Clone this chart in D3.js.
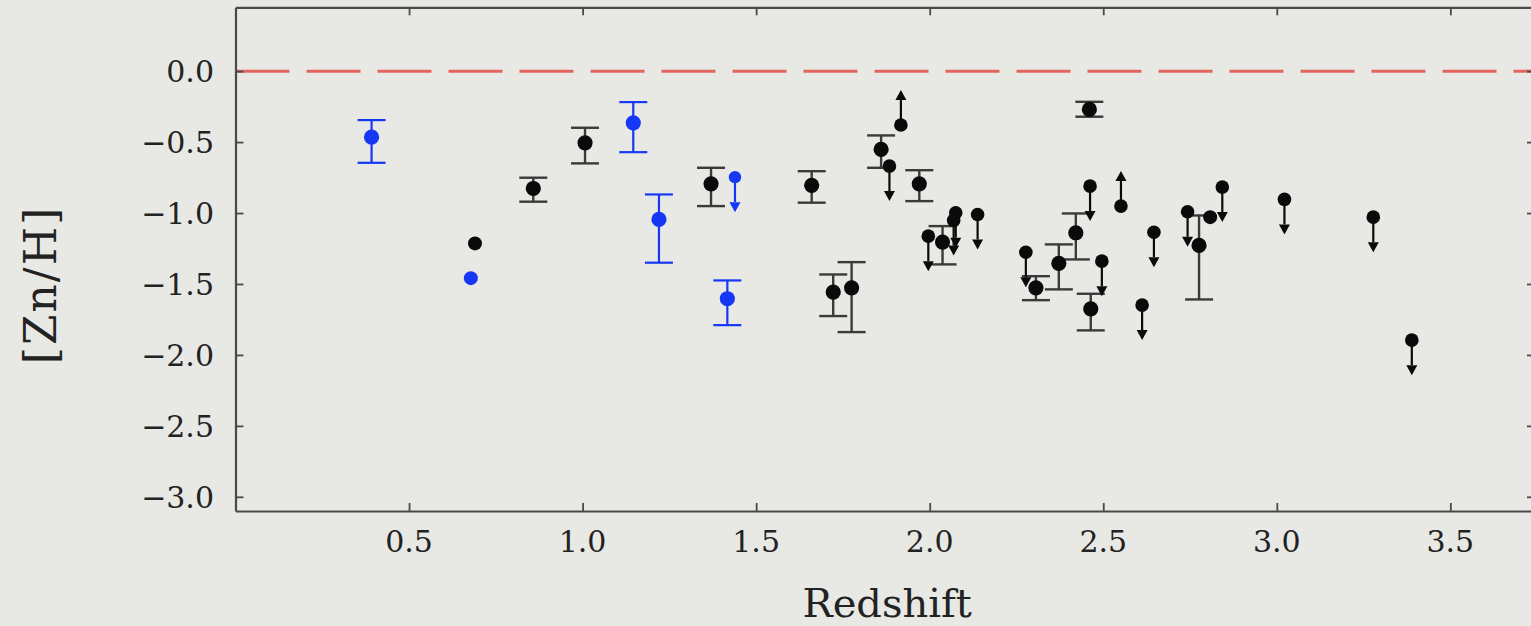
<!DOCTYPE html>
<html>
<head>
<meta charset="utf-8">
<script src="https://cdn.jsdelivr.net/npm/d3@7"></script>
<style>
  html, body { margin: 0; padding: 0; background: #e8e8e5; }
  svg { display: block; }
</style>
</head>
<body>
<svg id="chart" width="1531" height="626"></svg>
<script>
// ---------------- data ----------------
const xTicks = [0.5, 1.0, 1.5, 2.0, 2.5, 3.0, 3.5];
const yTicks = [0.0, -0.5, -1.0, -1.5, -2.0, -2.5, -3.0];
const xLabel = "Redshift";
const yLabel = "[Zn/H]";

// black detections with error bars: [z, value, low, high]
const blackErr = [
  [0.858, -0.827, -0.920, -0.751],
  [1.007, -0.505, -0.650, -0.399],
  [1.370, -0.794, -0.951, -0.681],
  [1.660, -0.805, -0.927, -0.705],
  [1.722, -1.557, -1.726, -1.433],
  [1.775, -1.527, -1.839, -1.346],
  [1.860, -0.552, -0.681, -0.453],
  [1.970, -0.794, -0.916, -0.698],
  [2.037, -1.205, -1.362, -1.092],
  [2.306, -1.527, -1.614, -1.445],
  [2.372, -1.355, -1.538, -1.221],
  [2.421, -1.139, -1.327, -1.003],
  [2.460, -0.270, -0.321, -0.216],
  [2.464, -1.675, -1.827, -1.569],
  [2.776, -1.228, -1.609, -1.017]
];
// black points without error bars: [z, value]
const blackPlain = [
  [0.690, -1.214],
  [2.808, -1.029]
];
// black upper limits: [z, value]
const blackUpper = [
  [1.884, -0.669], [1.996, -1.163], [2.069, -1.052], [2.075, -0.998],
  [2.138, -1.010], [2.277, -1.276], [2.462, -0.810], [2.496, -1.339],
  [2.612, -1.649], [2.646, -1.135], [2.743, -0.991], [2.843, -0.817],
  [3.022, -0.904], [3.278, -1.029], [3.389, -1.896]
];
// black lower limits: [z, value]
const blackLower = [
  [1.917, -0.380],
  [2.551, -0.951]
];
// blue detections with error bars: [z, value, low, high]
const blueErr = [
  [0.392, -0.465, -0.646, -0.345],
  [1.146, -0.364, -0.571, -0.218],
  [1.220, -1.045, -1.350, -0.869],
  [1.417, -1.604, -1.790, -1.475]
];
const bluePlain = [
  [0.678, -1.459]
];
const blueUpper = [
  [1.439, -0.747]
];
const solarLine = 0.0;

// ---------------- layout / style ----------------
const W = 1531, H = 626;
const mLeft = 235.5, mRight = 1533, mTop = 7.3, mBottom = 511;
const xDomain = [0, (mRight - mLeft) / 347.1];
const yDomain = [-3.1, 0.45];

const BLACK = "#0a0a0a", BAR = "#3a3a3a", BLUE = "#1638f5", AXIS = "#4a4a4a";
const RED = "#e4655d";
const capW = 28, arrowLen = 35, headH = 10, headW = 11;

const svg = d3.select("#chart");
svg.append("rect").attr("width", W).attr("height", H).attr("fill", "#e8e8e5");

const x = d3.scaleLinear().domain(xDomain).range([mLeft, mRight]);
const y = d3.scaleLinear().domain(yDomain).range([mBottom, mTop]);

const serif = "'DejaVu Serif', 'Liberation Serif', serif";

// solar reference line
svg.append("line")
  .attr("x1", x(xDomain[0])).attr("x2", x(xDomain[1]))
  .attr("y1", y(solarLine)).attr("y2", y(solarLine))
  .attr("stroke", RED).attr("stroke-width", 3)
  .attr("stroke-dasharray", "54,17");

// axes (ticks inside)
const axB = d3.axisBottom(x).tickValues(xTicks).tickSizeInner(-8).tickSizeOuter(0).tickFormat("");
const axT = d3.axisTop(x).tickValues(xTicks).tickSizeInner(-8).tickSizeOuter(0).tickFormat("");
const axL = d3.axisLeft(y).tickValues(yTicks).tickSizeInner(-8).tickSizeOuter(0).tickFormat("");
const axR = d3.axisRight(y).tickValues(yTicks).tickSizeInner(-6).tickSizeOuter(0).tickFormat("");

function styleAxis(g) {
  g.select(".domain").attr("stroke", AXIS).attr("stroke-width", 2.2);
  g.selectAll(".tick line").attr("stroke", AXIS).attr("stroke-width", 1.8);
}
svg.append("g").attr("transform", `translate(0,${mBottom})`).call(axB).call(styleAxis);
svg.append("g").attr("transform", `translate(0,${mTop})`).call(axT).call(styleAxis);
svg.append("g").attr("transform", `translate(${mLeft},0)`).call(axL).call(styleAxis);
svg.append("g").attr("transform", `translate(${mRight},0)`).call(axR).call(styleAxis);

// tick labels
svg.append("g").selectAll("text").data(xTicks).join("text")
  .attr("x", d => x(d)).attr("y", 552)
  .attr("text-anchor", "middle")
  .attr("font-family", serif).attr("font-size", 30).attr("fill", "#222")
  .text(d => d3.format(".1f")(d));

svg.append("g").selectAll("text").data(yTicks).join("text")
  .attr("x", 214).attr("y", d => y(d) + 11)
  .attr("text-anchor", "end")
  .attr("font-family", serif).attr("font-size", 30).attr("fill", "#222")
  .text(d => d3.format(".1f")(d).replace("-", "\u2212"));

// axis titles
svg.append("text")
  .attr("x", (mLeft + mRight) / 2 + 3).attr("y", 617)
  .attr("text-anchor", "middle")
  .attr("font-family", serif).attr("font-size", 40).attr("fill", "#222")
  .text(xLabel);

svg.append("text")
  .attr("transform", `translate(56,285) rotate(-90)`)
  .attr("text-anchor", "middle")
  .attr("font-family", serif).attr("font-size", 44).attr("letter-spacing", 2).attr("fill", "#222")
  .text(yLabel);

// ---------------- marks ----------------
const plot = svg.append("g");

function errorBars(data, color, width) {
  const g = plot.append("g").attr("stroke", color).attr("stroke-width", width).attr("fill", "none");
  g.selectAll("line.v").data(data).join("line").attr("class", "v")
    .attr("x1", d => x(d[0])).attr("x2", d => x(d[0]))
    .attr("y1", d => y(d[2])).attr("y2", d => y(d[3]));
  g.selectAll("line.lo").data(data).join("line").attr("class", "lo")
    .attr("x1", d => x(d[0]) - capW / 2).attr("x2", d => x(d[0]) + capW / 2)
    .attr("y1", d => y(d[2])).attr("y2", d => y(d[2]));
  g.selectAll("line.hi").data(data).join("line").attr("class", "hi")
    .attr("x1", d => x(d[0]) - capW / 2).attr("x2", d => x(d[0]) + capW / 2)
    .attr("y1", d => y(d[3])).attr("y2", d => y(d[3]));
}

function limits(data, color, dir, r) {
  // dir = +1 for upper limit (arrow down), -1 for lower limit (arrow up)
  const g = plot.append("g");
  g.selectAll("line").data(data).join("line")
    .attr("x1", d => x(d[0])).attr("x2", d => x(d[0]))
    .attr("y1", d => y(d[1])).attr("y2", d => y(d[1]) + dir * (arrowLen - headH))
    .attr("stroke", color).attr("stroke-width", 2.2);
  g.selectAll("path").data(data).join("path")
    .attr("d", d => {
      const cx = x(d[0]), tip = y(d[1]) + dir * arrowLen, base = tip - dir * headH;
      return `M${cx - headW / 2},${base}L${cx + headW / 2},${base}L${cx},${tip}Z`;
    })
    .attr("fill", color);
  g.selectAll("circle").data(data).join("circle")
    .attr("cx", d => x(d[0])).attr("cy", d => y(d[1])).attr("r", r)
    .attr("fill", color);
}

function dots(data, color, r) {
  plot.append("g").selectAll("circle").data(data).join("circle")
    .attr("cx", d => x(d[0])).attr("cy", d => y(d[1])).attr("r", r)
    .attr("fill", color);
}

errorBars(blackErr, BAR, 2.4);
errorBars(blueErr, BLUE, 2.2);
limits(blackUpper, BLACK, 1, 6.8);
limits(blackLower, BLACK, -1, 6.8);
limits(blueUpper, BLUE, 1, 6.2);
dots(blackErr, BLACK, 7.6);
dots(blueErr, BLUE, 7.6);
dots(blackPlain, BLACK, 7);
dots(bluePlain, BLUE, 7);
</script>
</body>
</html>
